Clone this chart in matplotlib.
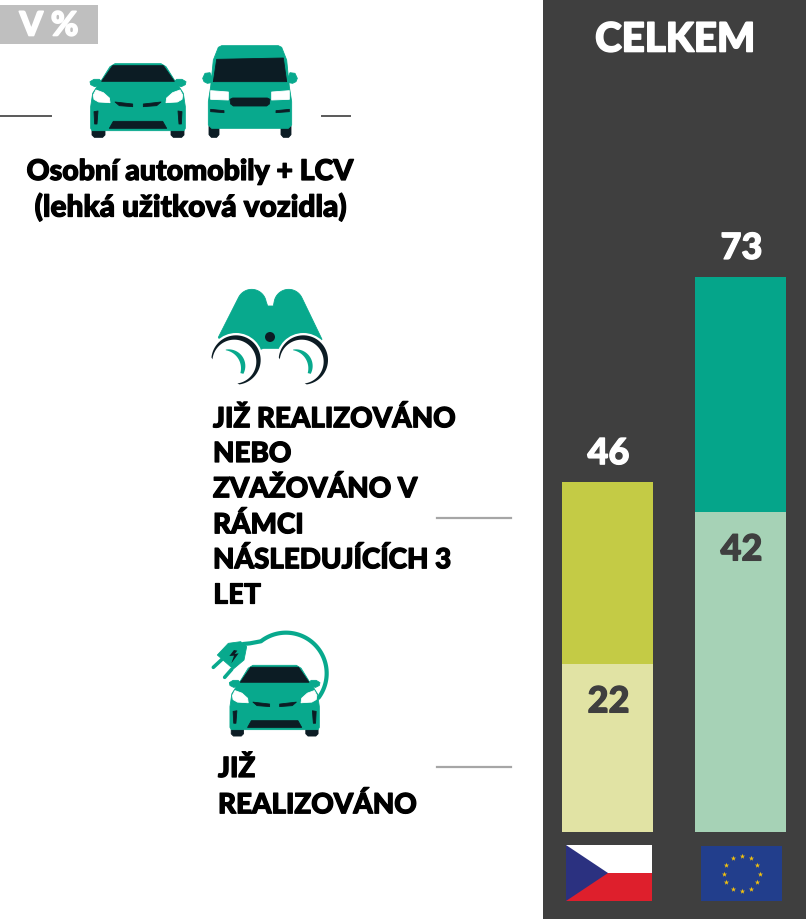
import numpy as np
import matplotlib
matplotlib.use("Agg")
import matplotlib.pyplot as plt
import matplotlib.patheffects as pe
from matplotlib.patches import Polygon, Rectangle, Circle

# ---- data ----
regions = ["CZ", "EU"]
realized = [22, 42]
planned_extra = [24, 31]
totals = [46, 73]
dark_colors = ["#c4cb45", "#05a58a"]
light_colors = ["#e1e3a4", "#a6d2b6"]

title_text = "CELKEM"
unit_text = "V %"
vehicle_lines = ["Osobní automobily + LCV", "(lehká užitková vozidla)"]
planned_lines = ["JIŽ REALIZOVÁNO", "NEBO", "ZVAŽOVÁNO V", "RÁMCI", "NÁSLEDUJÍCÍCH 3", "LET"]
done_lines = ["JIŽ", "REALIZOVÁNO"]

GREEN = "#08a98d"
NAVY = "#0c1c24"
PANEL = "#3f3f3f"
FONT = "Lato"

W, H = 806, 919
fig = plt.figure(figsize=(W / 100, H / 100), dpi=100, facecolor="white")


def box(x0, y0, x1, y1):
    return [x0 / W, 1 - y1 / H, (x1 - x0) / W, (y1 - y0) / H]


def heavy(color, w=0.9):
    return [pe.withStroke(linewidth=w, foreground=color)]


bg = fig.add_axes([0, 0, 1, 1], zorder=0)
bg.set_xlim(0, W)
bg.set_ylim(H, 0)
bg.axis("off")
bg.add_patch(Rectangle((543, 0), W - 543, H, color=PANEL, lw=0))

# bars layer
ax = fig.add_axes(box(542, 0, 805, 919), zorder=1)
ax.patch.set_alpha(0)
ax.axis("off")
ax.set_xlim(-0.4925, 1.485)
ax.set_ylim(-87.4 / 7.6, 831.6 / 7.6)
xs = np.arange(len(regions))
ax.bar(xs, realized, width=0.684, color=light_colors, lw=0)
ax.bar(xs, planned_extra, bottom=realized, width=0.684, color=dark_colors, lw=0)
for x, r, t in zip(xs, realized, totals):
    ax.annotate(str(t), (x, t), xytext=(0.7, 20.4), textcoords="offset points",
                ha="center", va="center", color="white", fontsize=26,
                fontfamily=FONT, fontweight="black", path_effects=heavy("white"))
    ax.annotate(str(r), (x, r), xytext=(0.7, -27), textcoords="offset points",
                ha="center", va="center", color=PANEL, fontsize=26,
                fontfamily=FONT, fontweight="black", path_effects=heavy(PANEL))

# overlay for icons and text
ov = fig.add_axes([0, 0, 1, 1], zorder=2)
ov.patch.set_alpha(0)
ov.set_xlim(0, W)
ov.set_ylim(H, 0)
ov.axis("off")


def T(s, x, y, size, color="black", ha="left", w=0.9):
    ov.text(x, y + 2, s, fontsize=size, color=color, ha=ha, va="center",
            fontfamily=FONT, fontweight="black", path_effects=heavy(color, w))


ov.add_patch(Rectangle((0, 5), 98, 39, color="#bfbfbf", lw=0))
T(unit_text, 49, 24, 24, "white", "center", 1.2)
T(title_text, 675, 38, 29, "white", "center", 1.2)
T(vehicle_lines[0], 190, 170, 20.5, "black", "center")
T(vehicle_lines[1], 191, 205, 21.5, "black", "center")
for s, y in zip(planned_lines, [417, 452, 487, 523, 558, 593]):
    T(s, 213, y, 20)
for s, y in zip(done_lines, [767, 803]):
    T(s, 218, y, 20)

ov.plot([0, 51], [116, 116], color="#595959", lw=1.4)
ov.plot([322, 350], [116, 116], color="#595959", lw=1.4)
ov.plot([437, 511], [518, 518], color="#a6a6a6", lw=1.6)
ov.plot([437, 511], [767, 767], color="#a6a6a6", lw=1.6)


def poly(pts, color, mp, z=3, lw=0.6):
    ov.add_patch(Polygon([mp(*p) for p in pts], closed=True, facecolor=color,
                         edgecolor=color, lw=lw, joinstyle="round", zorder=z))


def arc(cx, cy, r, t0, t1, n=60):
    a = np.radians(np.linspace(t0, t1, n))
    return [(cx + r * np.cos(v), cy + r * np.sin(v)) for v in a]


def draw_car(mp):
    mir = lambda pts: [(828 - x, y) for x, y in pts]
    wheel = [(276, 392), (315, 392), (315, 405), (308, 412), (283, 412), (276, 405)]
    poly(wheel, NAVY, mp)
    poly(mir(wheel), NAVY, mp)
    body = [(276, 392), (272, 385), (272, 320), (278, 280), (292, 258), (303, 243), (330, 200),
            (345, 191), (483, 191), (498, 200), (525, 243), (536, 258), (550, 280),
            (556, 320), (556, 385), (552, 392)]
    poly(body, GREEN, mp)
    m = [(270, 245), (282, 238), (298, 238), (304, 244), (300, 256), (284, 260), (272, 254)]
    poly(m, GREEN, mp)
    poly(mir(m), GREEN, mp)
    poly([(305, 244), (338, 197), (490, 197), (523, 244)], NAVY, mp)
    lamp = [(280, 285), (288, 270), (310, 278), (328, 294), (330, 308), (296, 306), (282, 298)]
    poly(lamp, "white", mp)
    poly(mir(lamp), "white", mp)
    slit = [(345, 306), (398, 312), (398, 320), (358, 317)]
    poly(slit, NAVY, mp)
    poly(mir(slit), NAVY, mp)
    side = [(282, 335), (294, 333), (291, 372), (284, 372)]
    poly(side, NAVY, mp)
    poly(mir(side), NAVY, mp)
    poly([(340, 364), (488, 364), (500, 385), (328, 385)], NAVY, mp)


def draw_van(mp):
    mir = lambda pts: [(1500 - x, y) for x, y in pts]
    wheel = [(627, 378), (657, 378), (657, 404), (650, 412), (634, 412), (627, 404)]
    poly(wheel, NAVY, mp)
    poly(mir(wheel), NAVY, mp)
    poly([(625, 375), (625, 305), (632, 260), (640, 180), (655, 142), (665, 137), (835, 137),
          (845, 142), (860, 180), (868, 260), (875, 305), (875, 375), (865, 385), (635, 385)], GREEN, mp)
    m = [(608, 235), (615, 220), (630, 218), (636, 235), (634, 248), (622, 250), (612, 245)]
    poly(m, GREEN, mp)
    poly(mir(m), GREEN, mp)
    poly([(640, 245), (650, 178), (850, 174), (860, 245)], NAVY, mp)
    lamp = [(632, 272), (685, 276), (685, 300), (632, 298)]
    poly(lamp, "white", mp)
    poly(mir(lamp), "white", mp)
    poly([(690, 298), (698, 294), (802, 294), (810, 298), (808, 312), (800, 318), (700, 318), (692, 312)], NAVY, mp)
    s = [(632, 328), (672, 332), (672, 338), (632, 335)]
    poly(s, NAVY, mp)
    poly(mir(s), NAVY, mp)


draw_car(lambda x, y: (x / 3, y / 3))
draw_van(lambda x, y: (x / 3, y / 3))
car2 = lambda x, y: (200 + (88 + (x - 270) * 0.944) / 3, 620 + (135 + (y - 190) * 0.96) / 3)
draw_car(car2)

# binoculars
b = lambda x, y: (200 + x / 3, 280 + y / 3)
outline = [(55, 172)] + arc(155, 72, 44, 205, 350, 24) + [(203, 78), (220, 78)] \
    + arc(266, 72, 44, 190, 335, 24) + [(366, 178), (300, 240), (240, 205), (190, 205), (100, 240)]
poly(outline, GREEN, b)
for cx in (108, 310):
    ov.add_patch(Circle(b(cx, 240), 81 / 3, color="white", lw=0, zorder=3.5))
    outer = arc(cx, 240, 74, 186, 442)
    inner = arc(cx - 5, 245, 66, 442, 186)
    poly(outer + inner, NAVY, b, z=4, lw=0)
    crescent = arc(cx - 22, 258, 50, -100, 28, 24) + arc(cx - 40, 265, 55, 15, -80, 24)
    poly(crescent, GREEN, b, z=4, lw=0)
ov.add_patch(Circle(b(210, 171), 15 / 3, color=NAVY, lw=0, zorder=5))

# plug icon
pl = lambda x, y: (200 + x / 3, 620 + y / 3)
cord = [pl(130, 72), pl(150, 70)] + [pl(*p) for p in arc(258, 160, 122, 232, 397, 80)]
ov.plot(*zip(*cord), color=GREEN, lw=3, zorder=2.5, solid_capstyle="round", solid_joinstyle="round")
poly([(52, 105), (85, 70), (122, 65), (140, 80), (132, 120), (100, 147)], GREEN, pl)
ov.plot(*zip(pl(66, 118), pl(40, 142)), color=GREEN, lw=2.6, solid_capstyle="round", zorder=3)
ov.plot(*zip(pl(95, 148), pl(74, 172)), color=GREEN, lw=2.6, solid_capstyle="round", zorder=3)
poly([(102, 90), (88, 108), (102, 107), (94, 130), (116, 100), (104, 102), (112, 92)], NAVY, pl, z=4, lw=0)

# flags
ov.add_patch(Rectangle((566, 845), 86, 28, color="white", lw=0))
ov.add_patch(Rectangle((566, 873), 86, 28, color="#de1f2c", lw=0))
ov.add_patch(Polygon([(566, 845), (608, 873), (566, 901)], color="#2b3180", lw=0))
ov.add_patch(Rectangle((701, 846), 81, 55, color="#223e8c", lw=0))
t = np.radians(np.arange(0, 360, 30))
ov.scatter(741.5 + 18 * np.cos(t), 873.5 + 17.5 * np.sin(t), marker="*", s=16,
           color="#f4c20d", lw=0, zorder=4)

fig.savefig("out.png", dpi=100, facecolor="white")
